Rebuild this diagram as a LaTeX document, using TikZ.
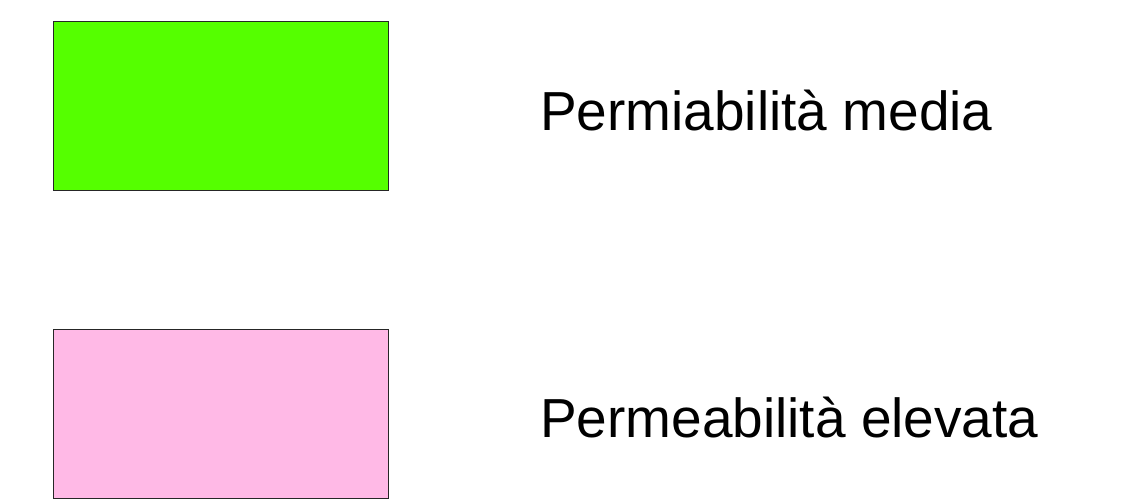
\documentclass[tikz,border=0pt]{standalone}
\usepackage{fontspec}
\setmainfont{Liberation Sans}
\definecolor{medgreen}{RGB}{85,255,0}
\definecolor{highpink}{RGB}{255,185,230}
\begin{document}
\begin{tikzpicture}[x=1pt,y=-1pt,
  swatch/.style={draw=black!85,line width=1pt},
  legendtext/.style={anchor=base west,inner sep=0pt,font=\fontsize{55}{60}\selectfont}]
\useasboundingbox (0,0) rectangle (1124,503);
\filldraw[swatch,fill=medgreen] (53.5,21.5) rectangle (388,190) coordinate (g);
\filldraw[swatch,fill=highpink] (53.5,329.5) rectangle (388,498) coordinate (p);
\node[legendtext] (t1) at (540,130) {Permiabilità media};
\node[legendtext] (t2) at (540,437) {Permeabilità elevata};
\end{tikzpicture}
\end{document}
